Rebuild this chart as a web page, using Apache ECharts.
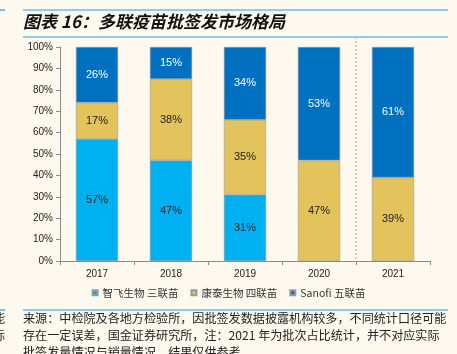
<!DOCTYPE html>
<html>
<head>
<meta charset="utf-8">
<script src="https://cdn.jsdelivr.net/npm/echarts@6/dist/echarts.min.js"></script>
<style>
  html, body { margin: 0; padding: 0; background: #fef9ef; }
  #main { width: 457px; height: 354px; }
</style>
</head>
<body>
<div id="main"></div>
<script>
// 数据
var years = ['2017', '2018', '2019', '2020', '2021'];
var zhifei = [57, 47, 31, null, null];   // 智飞生物 三联苗
var kangtai = [17, 38, 35, 47, 39];      // 康泰生物 四联苗
var sanofi = [26, 15, 34, 53, 61];       // Sanofi 五联苗
var seriesNames = ['智飞生物 三联苗', '康泰生物 四联苗', 'Sanofi 五联苗'];

var lineColor = '#1ba1e6';
var cnFont = '"Noto Sans CJK SC", sans-serif';
var enFont = 'Arial, "Liberation Sans", sans-serif';

var myChart = echarts.init(document.getElementById('main'));

function barSeries(name, data, color, labelColor) {
  return {
    name: name,
    type: 'bar',
    stack: 'total',
    barWidth: '57%',
    data: data,
    itemStyle: { color: color, borderColor: '#9a9a9a', borderWidth: 0.6 },
    label: {
      show: true,
      position: 'inside',
      color: labelColor,
      fontFamily: enFont,
      fontSize: 11,
      formatter: function (p) { return p.value == null ? '' : p.value + '%'; }
    }
  };
}

function hline(id, x1, x2, y) {
  return { id: id, type: 'line', shape: { x1: x1, y1: y, x2: x2, y2: y }, style: { stroke: lineColor, lineWidth: 1.2 } };
}

myChart.setOption({
  backgroundColor: '#fef9ef',
  animation: false,
  grid: { left: 60, right: 27, top: 47, bottom: 93, outerBoundsMode: 'none' },
  legend: {
    data: seriesNames,
    bottom: 51,
    left: 'center',
    itemWidth: 5,
    itemHeight: 5,
    itemGap: 12,
    icon: 'rect',
    textStyle: { fontFamily: cnFont, fontSize: 10.5, color: '#333' }
  },
  xAxis: {
    type: 'category',
    data: years,
    axisLine: { lineStyle: { color: '#8c8c8c' } },
    axisTick: { show: true, length: 4, lineStyle: { color: '#8c8c8c' } },
    axisLabel: { color: '#222', fontFamily: enFont, fontSize: 10, margin: 8 }
  },
  yAxis: {
    type: 'value',
    min: 0,
    max: 100,
    interval: 10,
    axisLine: { show: true, lineStyle: { color: '#8c8c8c' } },
    axisTick: { show: true, length: 4, lineStyle: { color: '#8c8c8c' } },
    splitLine: { show: false },
    axisLabel: { formatter: '{value}%', color: '#222', fontFamily: enFont, fontSize: 10, margin: 7 }
  },
  series: [
    barSeries(seriesNames[0], zhifei, '#00b0f0', '#222'),
    barSeries(seriesNames[1], kangtai, '#e2c35c', '#222'),
    barSeries(seriesNames[2], sanofi, '#0070c0', '#fff')
  ],
  graphic: [
    hline('l1', 23, 448, 10),
    hline('l2', 23, 448, 37),
    hline('l3', 0, 5, 10),
    hline('l4', 23, 448, 310),
    hline('l5', 0, 5, 310),
    {
      id: 'title', type: 'text', left: 23, top: 13,
      style: {
        text: '图表 16：多联疫苗批签发市场格局',
        font: 'italic bold 17px "Noto Sans CJK SC", sans-serif',
        fill: '#111'
      }
    },
    {
      id: 'source', type: 'text', left: 23, top: 310,
      style: {
        text: '来源：中检院及各地方检验所，因批签发数据披露机构较多，不同统计口径可能\n存在一定误差，国金证券研究所，注：2021 年为批次占比统计，并不对应实际\n批签发量情况与销量情况，结果仅供参考',
        font: '12.1px "Noto Sans CJK SC", sans-serif',
        lineHeight: 17,
        fill: '#222'
      }
    },
    {
      id: 'frag', type: 'text', left: -7, top: 310,
      style: { text: '能\n际', font: '12.1px "Noto Sans CJK SC", sans-serif', lineHeight: 17, fill: '#222' }
    }
  ]
});

// 2020 与 2021 之间的红色虚线
var p20 = myChart.convertToPixel({ xAxisIndex: 0 }, '2020');
var p21 = myChart.convertToPixel({ xAxisIndex: 0 }, '2021');
var midX = (p20 + p21) / 2;
myChart.setOption({
  graphic: [
    { id: 'divider', type: 'line', shape: { x1: midX, y1: 37, x2: midX, y2: 261 }, style: { stroke: '#e89090', lineWidth: 1, lineDash: [2, 2] }, z: 100 }
  ]
});
</script>
</body>
</html>
